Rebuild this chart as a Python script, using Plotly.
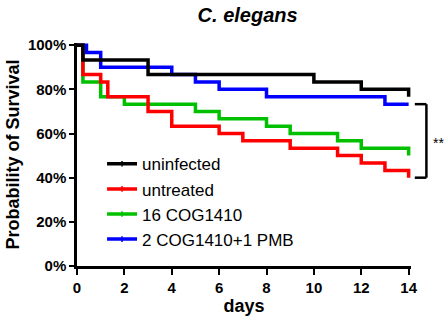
import plotly.graph_objects as go

# ---- data (days, % survival) ----
names = ["uninfected", "untreated", "16 COG1410", "2 COG1410+1 PMB"]
colors = ["#000000", "#FF0000", "#00C000", "#0000FF"]

uninf_days = [0, 0.25, 3, 10, 12, 14]
uninf_surv = [100, 93.3, 86.7, 83.3, 80, 76.7]

untr_days = [0, 0.25, 1, 1.3, 3, 4, 6, 7, 9, 11, 12, 13, 14]
untr_surv = [100, 86.7, 83.3, 76.7, 70, 63.3, 60, 56.7, 53.3, 50, 46.7, 43.3, 40]

cog16_days = [0, 0.25, 1, 2, 5, 6, 8, 9, 11, 12, 14]
cog16_surv = [100, 83.3, 76.7, 73.3, 70, 66.7, 63.3, 60, 56.7, 53.3, 50]

cogpmb_days = [0, 0.4, 1, 4, 5, 6, 8, 13, 14]
cogpmb_surv = [100, 96.7, 90, 86.7, 83.3, 80, 76.7, 73.3, 73.3]

x_ticks = [0, 2, 4, 6, 8, 10, 12, 14]
y_ticks = [0, 20, 40, 60, 80, 100]
sig_label = "**"

XMAX = 14.1
YMAX = 101
FONT = "Arial, Liberation Sans, sans-serif"

series = [
    (uninf_days, uninf_surv),
    (untr_days, untr_surv),
    (cog16_days, cog16_surv),
    (cogpmb_days, cogpmb_surv),
]

fig = go.Figure()

# draw order: green, red, blue, black (black on top)
for i in [2, 1, 3, 0]:
    d, s = series[i]
    fig.add_trace(go.Scatter(
        x=d, y=s, mode="lines", line=dict(color=colors[i], width=3.5, shape="hv"),
        showlegend=False, hoverinfo="skip"))

# legend entries
for i in range(4):
    fig.add_trace(go.Scatter(
        x=[None], y=[None], mode="lines+markers", name=names[i],
        legendgroup=names[i],
        line=dict(color=colors[i], width=3.5),
        marker=dict(symbol="line-ns", size=4, color=colors[i],
                    line=dict(width=1.5, color=colors[i]))))

# significance bracket between blue and red final values
top_v = cogpmb_surv[-1]
bot_v = untr_surv[-1]
x0p = 14.26 / XMAX
x1p = 14.75 / XMAX
ytp = top_v / YMAX
ybp = bot_v / YMAX
for (xa, ya, xb, yb) in [(x0p, ytp, x1p, ytp), (x1p, ytp, x1p, ybp), (x1p, ybp, x0p, ybp)]:
    fig.add_shape(type="line", xref="paper", yref="paper", x0=xa, y0=ya, x1=xb, y1=yb,
                  line=dict(color="black", width=2.5))
fig.add_annotation(xref="paper", yref="y", x=14.95 / XMAX, y=(top_v + bot_v) / 2 - 1,
                   text=sig_label, showarrow=False, xanchor="left",
                   font=dict(family=FONT, size=14, color="black"))

fig.update_layout(
    width=447, height=320,
    margin=dict(l=77, r=36, t=43, b=54, autoexpand=False),
    paper_bgcolor="white", plot_bgcolor="white",
    title=dict(text="<b><i>C. elegans</i></b>", x=0.554, xanchor="center",
               y=1 - 15 / 320, yanchor="middle", yref="container",
               font=dict(family=FONT, size=20, color="black")),
    font=dict(family=FONT, color="black"),
    legend=dict(x=0.075, y=0.537, xanchor="left", yanchor="top",
                bgcolor="rgba(0,0,0,0)", font=dict(family=FONT, size=17, color="black"),
                tracegroupgap=4, itemwidth=30, traceorder="normal"),
    xaxis=dict(range=[0, XMAX], tickvals=x_ticks, ticktext=[f"<b>{v}</b>" for v in x_ticks],
               showline=True, linecolor="black", linewidth=2.5, ticks="outside",
               ticklen=6, tickwidth=2, tickcolor="black", showgrid=False, zeroline=False,
               automargin=False,
               tickfont=dict(family=FONT, size=15, color="black"),
               title=dict(text="<b>days</b>", font=dict(family=FONT, size=18, color="black"),
                          standoff=4)),
    yaxis=dict(range=[0, YMAX], tickvals=y_ticks, ticktext=[f"<b>{v}%</b>" for v in y_ticks],
               showline=True, linecolor="black", linewidth=2.5, ticks="outside",
               ticklen=5, tickwidth=2, tickcolor="black", showgrid=False, zeroline=False,
               automargin=False,
               tickfont=dict(family=FONT, size=15, color="black"),
               title=dict(text="<b>Probability of Survival</b>",
                          font=dict(family=FONT, size=18, color="black"), standoff=4)),
)

fig.write_html("out.html", config={"displayModeBar": False},
               post_script="document.body.style.margin='0px';")
